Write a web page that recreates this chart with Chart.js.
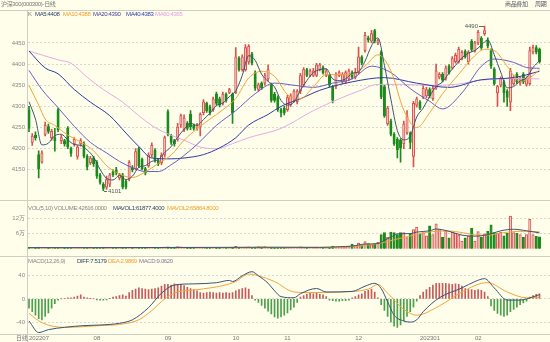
<!DOCTYPE html>
<html>
<head>
<meta charset="utf-8">
<script src="https://cdn.jsdelivr.net/npm/chart.js@4.4.1/dist/chart.umd.min.js"></script>
<style>
  body { margin: 0; background: #fefeeb; }
  #wrap { position: relative; width: 550px; height: 342px; overflow: hidden; background: #fefeeb;
          font-family: 'Liberation Sans', 'Noto Sans CJK SC', sans-serif; }
  canvas { position: absolute; left: 0; }
  .t { position: absolute; font-size: 6px; line-height: 7px; white-space: nowrap; letter-spacing: -0.35px; }
  .hl { position: absolute; left: 0; width: 550px; height: 0; border-top: 1px solid #cfcfc4; }
  .vl { position: absolute; left: 27px; top: 10px; width: 0; height: 332px; border-left: 1px solid #cfcfc4; }
</style>
</head>
<body>
<div id="wrap">
  <canvas id="main" width="550" height="190" style="top:10px"></canvas>
  <canvas id="vol" width="550" height="56" style="top:200px"></canvas>
  <canvas id="macd" width="550" height="86" style="top:256px"></canvas>

  <div class="hl" style="top:10px"></div>
  <div class="hl" style="top:200px"></div>
  <div class="hl" style="top:256px"></div>
  <div class="hl" style="top:334px"></div>
  <div class="vl"></div>

  <div class="t" style="left:1px;top:1px;color:#777">沪深300(000300)-日线</div>
  <div class="t" style="left:505px;top:1px;color:#556">商品叠加</div>
  <div class="t" style="left:535px;top:1px;color:#556">周期</div>

  <div class="t" style="left:28px;top:11px;color:#777">K</div>
  <div class="t" style="left:35px;top:11px;color:#2b4566">MA5:4408</div>
  <div class="t" style="left:63px;top:11px;color:#f0a030">MA10:4388</div>
  <div class="t" style="left:93px;top:11px;color:#4a3c9c">MA20:4390</div>
  <div class="t" style="left:126px;top:11px;color:#3040b0">MA40:4383</div>
  <div class="t" style="left:155px;top:11px;color:#e0a0e0">MA60:4365</div>

  <div class="t" style="left:28px;top:205px;color:#888">VOL(5,10) VOLUME:42616.0000</div>
  <div class="t" style="left:113px;top:205px;color:#2b4566">MAVOL1:61877.4000</div>
  <div class="t" style="left:167px;top:205px;color:#f0a030">MAVOL2:65864.8000</div>

  <div class="t" style="left:28px;top:258px;color:#888">MACD(12,26,9)</div>
  <div class="t" style="left:77px;top:258px;color:#2b4566">DIFF:7.5179</div>
  <div class="t" style="left:108px;top:258px;color:#f0a030">DEA:2.9869</div>
  <div class="t" style="left:139px;top:258px;color:#887799">MACD:9.0620</div>

  <div class="t" style="left:16px;top:335px;color:#777">日线</div>
</div>

<script>
// daily candles, index 0 = first session of 2022-07
var opens = [4292,4215,4232,4186,4168,4234,4252,4226,4226,4292, 4219,4219,4248,4200,4211,4182,4211,4212,4182,4167,
  4178,4168,4138,4116,4109,4116,4146,4150,4131,4138, 4123,4128,4155,4153,4200,4175,4153,4160,4185,4197,
  4172,4167,4185,4288,4230,4219,4222,4256,4245,4260, 4281,4255,4248,4252,4285,4307,4299,4292,4329,4318,
  4307,4329,4333,4329,4333,4414,4387,4387,4405,4424, 4380,4340,4355,4355,4365,4351,4329,4321,4292,4296,
  4292,4304,4314,4311,4336,4351,4387,4373,4373,4373, 4387,4392,4373,4373,4347,4347,4373,4358,4358,4365,
  4380,4369,4380,4417,4432,4462,4454,4479,4450,4428, 4347,4259,4266,4234,4222,4220,4212,4237,4237,4182,
  4303,4310,4322,4325,4340,4318,4343,4369,4376,4366, 4395,4391,4406,4406,4413,4431,4406,4454,4431,4450,
  4461,4472,4457,4432,4388,4332,4350,4358,4336,4310, 4354,4376,4355,4376,4352,4354,4428,4439,4435];
var closes = [4248,4230,4226,4153,4190,4255,4241,4241,4219,4245, 4226,4211,4204,4189,4222,4204,4219,4182,4157,4178,
  4164,4135,4120,4106,4127,4138,4138,4142,4138,4109, 4109,4168,4150,4193,4160,4153,4142,4185,4208,4172,
  4164,4185,4226,4234,4215,4211,4251,4278,4273,4248, 4252,4248,4255,4281,4311,4290,4285,4318,4307,4303,
  4329,4314,4340,4285,4417,4387,4417,4439,4442,4402, 4343,4351,4343,4373,4387,4314,4314,4292,4285,4285,
  4321,4325,4336,4336,4373,4387,4373,4384,4384,4398, 4398,4380,4384,4351,4314,4376,4380,4376,4380,4384,
  4369,4380,4417,4402,4468,4457,4472,4454,4457,4322, 4278,4296,4234,4212,4197,4201,4259,4277,4215,4307,
  4318,4296,4343,4340,4325,4343,4384,4376,4362,4391, 4380,4413,4421,4435,4428,4417,4428,4435,4450,4475,
  4439,4479,4443,4395,4354,4347,4366,4332,4321,4384, 4369,4358,4366,4358,4366,4432,4439,4428,4406];
var highs = [4300,4236,4240,4195,4195,4263,4258,4246,4248,4296, 4232,4222,4252,4204,4226,4208,4224,4216,4186,4182,
  4182,4172,4142,4120,4135,4142,4150,4156,4142,4142, 4126,4172,4160,4200,4204,4178,4156,4190,4214,4200,
  4176,4190,4230,4292,4234,4222,4260,4282,4280,4264, 4290,4258,4260,4285,4316,4310,4303,4322,4334,4322,
  4334,4332,4343,4332,4439,4418,4422,4446,4446,4428, 4384,4355,4358,4378,4398,4355,4333,4325,4296,4300,
  4326,4330,4340,4340,4378,4392,4390,4388,4390,4402, 4402,4396,4388,4376,4350,4380,4384,4380,4384,4388,
  4384,4390,4440,4420,4475,4466,4480,4482,4460,4432, 4350,4300,4270,4238,4226,4224,4265,4290,4240,4312,
  4322,4314,4350,4345,4344,4350,4400,4380,4380,4396, 4399,4418,4426,4440,4432,4434,4432,4458,4454,4480,
  4465,4490,4462,4436,4392,4350,4370,4362,4340,4390, 4374,4380,4370,4380,4370,4440,4445,4444,4438];
var lows = [4240,4208,4220,4131,4166,4230,4236,4220,4194,4240, 4212,4206,4200,4182,4206,4175,4206,4178,4150,4162,
  4158,4130,4116,4101,4104,4110,4134,4138,4126,4105, 4105,4124,4145,4150,4155,4150,4138,4156,4180,4168,
  4160,4162,4180,4230,4210,4206,4218,4250,4240,4244, 4245,4244,4244,4230,4280,4286,4280,4288,4303,4299,
  4303,4310,4330,4260,4330,4383,4383,4383,4400,4398, 4338,4336,4340,4350,4360,4310,4310,4288,4275,4280,
  4288,4300,4310,4306,4330,4346,4370,4370,4370,4370, 4384,4376,4370,4346,4308,4342,4370,4354,4354,4360,
  4365,4365,4376,4398,4428,4452,4450,4450,4446,4318, 4274,4255,4230,4208,4178,4168,4200,4234,4200,4157,
  4298,4292,4318,4320,4320,4314,4340,4365,4358,4362, 4376,4388,4402,4402,4410,4414,4400,4430,4428,4446,
  4435,4468,4438,4390,4350,4300,4346,4310,4300,4290, 4350,4354,4350,4354,4348,4350,4424,4424,4402];

// moving averages: [candle index, value]
var ma5 = [[0,4311],[2,4270],[4,4209],[6,4213],[8,4231],[10,4234],[12,4221],[14,4210],[16,4208],[18,4197],[20,4180],
  [22,4151],[24,4130],[26,4126],[28,4137],[30,4127],[32,4135],[34,4156],[36,4160],[38,4170],[40,4174],[42,4191],
  [44,4205],[46,4227],[48,4246],[50,4260],[52,4255],[54,4269],[56,4284],[58,4302],[60,4308],[62,4323],[64,4337],
  [66,4373],[68,4420],[70,4409],[72,4376],[74,4359],[76,4346],[78,4314],[80,4303],[82,4310],[84,4338],[86,4361],
  [88,4380],[90,4387],[92,4389],[94,4365],[96,4361],[98,4365],[100,4378],[102,4382],[104,4407],[106,4443],
  [108,4462],[110,4397],[112,4317],[114,4243],[116,4221],[118,4230],[120,4275],[122,4296],[124,4324],[126,4347],
  [128,4358],[130,4379],[132,4397],[134,4415],[136,4426],[138,4432],[140,4445],[142,4457],[144,4422],[146,4381],
  [148,4344],[150,4347],[152,4360],[154,4368],[156,4392],[158,4408]];
var ma10 = [[0,4349],[3,4303],[5,4270],[8,4255],[12,4232],[16,4216],[20,4195],[24,4160],[28,4140],[32,4132],[36,4145],
  [40,4165],[44,4185],[48,4220],[52,4247],[56,4270],[60,4292],[64,4319],[68,4367],[72,4383],[76,4371],[80,4328],
  [84,4318],[88,4346],[92,4375],[96,4375],[100,4376],[104,4395],[108,4422],[112,4384],[116,4291],[120,4250],
  [124,4285],[128,4330],[133,4376],[138,4420],[141,4435],[144,4432],[148,4395],[152,4359],[156,4373],[158,4388]];
var ma20 = [[0,4385],[4,4340],[9,4297],[14,4253],[19,4215],[24,4190],[28,4170],[32,4155],[36,4146],
  [40,4146],[44,4162],[47,4178],[52,4210],[58,4255],[64,4290],[70,4330],[76,4355],[82,4350],[88,4345],[94,4355],
  [100,4365],[106,4395],[112,4380],[118,4342],[124,4312],[128,4294],[134,4332],[140,4395],[144,4412],[150,4404],
  [154,4392],[158,4390]];
var ma40 = [[0,4431],[5,4391],[9,4377],[14,4340],[19,4310],[25,4278],[30,4237],[34,4205],[38,4178],[44,4176],
  [48,4178],[54,4186],[59,4202],[64,4226],[68,4256],[74,4281],[78,4300],[84,4318],[90,4338],[100,4358],
  [110,4368],[120,4355],[130,4345],[140,4363],[150,4368],[158,4383]];
var ma60 = [[0,4431],[9,4410],[13,4402],[18,4369],[23,4340],[29,4310],[34,4278],[39,4250],[44,4232],[48,4220],
  [53,4204],[58,4200],[63,4212],[68,4226],[78,4248],[88,4290],[96,4318],[102,4336],[108,4352],[116,4352],
  [124,4350],[132,4352],[140,4362],[148,4366],[158,4365]];

// volume, unit 万
var volume = [0.5,0.4,0.3,0.6,0.4,0.5,0.3,0.4,0.3,0.5, 0.3,0.3,0.4,0.3,0.3,0.4,0.3,0.5,0.4,0.3,
  0.4,0.5,0.4,0.6,0.5,0.4,0.3,0.3,0.3,0.4, 0.3,0.4,0.3,0.5,0.4,0.3,0.3,0.4,0.5,0.3,
  0.3,0.4,0.6,0.7,0.5,0.6,0.8,0.7,0.5,0.4, 0.3,0.3,0.4,0.4,0.5,0.3,0.4,0.5,0.4,0.3,
  0.4,0.3,0.4,0.6,0.9,0.6,0.5,0.6,0.7,0.5, 0.6,0.8,0.7,0.8,0.6,0.4,0.4,0.3,0.4,0.3,
  0.4,0.3,0.5,0.4,0.7,0.5,0.4,0.5,0.4,0.3, 0.4,0.5,0.4,0.5,1.0,0.6,0.8,0.9,0.7,0.8,
  1.8,1.2,2.2,1.4,2.8,2.0,1.6,1.7,2.5,5.5, 6.3,4.5,6.5,6.3,5.5,6.3,6.3,4.3,6.0,7.5,
  8.5,5.8,6.3,5.0,9.0,5.5,9.7,7.5,4.5,7.0, 4.2,6.5,6.0,5.3,3.0,4.2,5.0,8.0,3.0,6.7,
  4.5,5.8,6.8,9.3,6.3,6.0,6.5,5.0,6.0,12.8, 6.3,6.0,5.5,4.5,5.5,11.5,5.5,4.8,4.6];
var mavol1 = [[0,0.4],[20,0.4],[40,0.45],[60,0.5],[76,0.55],[90,0.5],[96,0.75],[100,1.0],[104,1.8],[108,2.0],
  [110,3.3],[112,4.5],[114,5.8],[118,5.9],[120,6.5],[124,7.0],[126,7.7],[130,6.8],[134,5.3],[138,4.9],[142,5.5],
  [146,7.0],[150,7.6],[154,7.0],[158,6.19]];
var mavol2 = [[0,0.4],[20,0.4],[40,0.42],[60,0.45],[76,0.5],[90,0.5],[100,0.8],[106,1.6],[110,2.5],[114,3.8],
  [118,5.0],[122,6.1],[126,6.8],[130,6.9],[134,6.3],[138,5.4],[142,5.3],[146,6.1],[150,6.7],[154,6.8],[158,6.59]];

// MACD(12,26,9)
var macdHist = [-16,-22,-28,-34,-36,-30,-24,-16,-8,-2, 0,1,2,2,3,5,7,3,2,0.5,
  0,-1.5,-2,-2,-1.5,0.5,3,4,6,7, 5,11,15,17,19,18,17,16,17,18,
  19,22,25,25,24,26,25,25,23,20, 18,16,14,11,10,11,12,11,10,11,
  10,11,10,11,14,16,18,19,17,6, -2,-6,-11,-16,-21,-26,-31,-33,-31,-28,
  -24,-19,-14,-6,3,6,8,10,9,10, 8,7,4,-2,-3,-4,-4,-3,-3,-2,
  2,4,7,9,13,15,17,12,2,-10, -20,-30,-40,-47,-49,-45,-38,-30,-22,-14,
  -4,6,12,16,20,24,27,27,27,27, 26,25,26,25,22,18,16,16,15,16,
  15,12,4,-12,-20,-25,-28,-30,-28,-22, -18,-14,-10,-7,-4,3,6,8,9];
var dif = [[0,-38],[3,-58],[6,-53],[11,-49],[17,-46],[22,-45],[28,-42],[32,-36],[37,-15],[41,10],[45,24],[51,26],
  [58,28],[62,32],[63,30],[66,40],[69,47],[71,40],[74,27],[76,14],[78,4],[82,2],[84,9],[89,18],[92,12],[100,13],
  [104,22],[107,27],[109,18],[111,-5],[113,-28],[116,-38],[118,-40],[120,-36],[122,-22],[127,2],[134,19],[138,30],
  [141,35],[144,19],[148,-2],[152,-2],[154,0],[158,7.5]];
var dea = [[0,-25],[4,-41],[11,-49],[22,-46],[28,-44],[34,-36],[38,-20],[42,0],[46,12],[52,16],[60,23],[64,30],
  [68,43],[71,40],[76,30],[82,12],[86,11],[97,12],[105,17],[108,25],[111,10],[116,-18],[120,-28],[127,-12],
  [134,12],[140,27],[142,28],[148,12],[154,2],[158,3]];

var monthIdx = [0, 20, 42, 63, 79, 101, 121, 138];
var monthLabels = ['202207', '08', '09', '10', '11', '12', '202301', '02'];

Chart.defaults.font.family = "'Liberation Sans', 'Noto Sans CJK SC', sans-serif";
Chart.defaults.font.size = 6;
Chart.defaults.color = '#888';
Chart.defaults.animation = false;

var RED = '#d9534f', RED_FILL = '#f6cdc4', GREEN = '#1c8a1c';
var isUp = closes.map(function (c, i) { return c >= opens[i]; });

function pts(arr) { return arr.map(function (p) { return { x: p[0], y: p[1] }; }); }

function xAxis(show) {
  return {
    type: 'linear', min: -0.31, max: 161.25, offset: false, display: show,
    grid: { display: false, drawTicks: false }, border: { display: false }
  };
}
function yAxis(min, max, ticks, fmt) {
  return {
    position: 'left', min: min, max: max,
    afterFit: function (s) { s.width = 28; },
    afterBuildTicks: function (s) { s.ticks = ticks.map(function (v) { return { value: v }; }); },
    grid: { color: '#d8d8cc', drawTicks: false },
    border: { display: false, dash: [2, 2] },
    ticks: { padding: 3, color: '#888', font: { size: 6 }, callback: fmt }
  };
}
function maLine(label, data, color) {
  return { type: 'line', label: label, data: pts(data), borderColor: color, borderWidth: 1,
    pointRadius: 0, cubicInterpolationMode: 'monotone', order: 0 };
}
var common = {
  responsive: false, devicePixelRatio: 1,
  layout: { padding: 0 },
  plugins: { legend: { display: false }, tooltip: { enabled: false } }
};

// labels for the highest high and lowest low
var extremes = {
  id: 'extremes',
  afterDatasetsDraw: function (chart) {
    var ctx = chart.ctx, xs = chart.scales.x, ys = chart.scales.y;
    var hi = highs.indexOf(Math.max.apply(null, highs));
    var lo = lows.indexOf(Math.min.apply(null, lows));
    ctx.save();
    ctx.font = "6px 'Liberation Sans'";
    ctx.fillStyle = '#555';
    ctx.strokeStyle = '#666';
    ctx.lineWidth = 1;
    ctx.textBaseline = 'middle';
    var x = Math.round(xs.getPixelForValue(hi)), y = Math.round(ys.getPixelForValue(highs[hi]));
    ctx.beginPath(); ctx.moveTo(x - 1, y + 0.5); ctx.lineTo(x - 6, y + 0.5); ctx.stroke();
    ctx.textAlign = 'right';
    ctx.fillText(String(highs[hi]), x - 7, y);
    x = Math.round(xs.getPixelForValue(lo)); y = Math.round(ys.getPixelForValue(lows[lo]));
    ctx.beginPath(); ctx.moveTo(x + 1, y + 0.5); ctx.lineTo(x + 4, y + 0.5); ctx.stroke();
    ctx.textAlign = 'left';
    ctx.fillText(String(lows[lo]), x + 5, y);
    ctx.restore();
  }
};

new Chart(document.getElementById('main'), {
  type: 'bar',
  data: {
    datasets: [
      maLine('MA5', ma5, '#3b5473'),
      maLine('MA10', ma10, '#f2a33a'),
      maLine('MA20', ma20, '#6a5cc0'),
      maLine('MA40', ma40, '#2b3aa8'),
      maLine('MA60', ma60, '#e6aae6'),
      {
        label: 'body', order: 1, grouped: false,
        data: opens.map(function (o, i) { return { x: i, y: [o, closes[i]] }; }),
        backgroundColor: isUp.map(function (u) { return u ? RED_FILL : GREEN; }),
        borderColor: isUp.map(function (u) { return u ? RED : GREEN; }),
        borderWidth: 1, borderSkipped: false, barThickness: 2.4, minBarLength: 1
      },
      {
        label: 'wick', order: 2, grouped: false,
        data: lows.map(function (l, i) { return { x: i, y: [l, highs[i]] }; }),
        backgroundColor: isUp.map(function (u) { return u ? RED : GREEN; }),
        barThickness: 1
      }
    ]
  },
  options: Object.assign({}, common, {
    scales: {
      x: xAxis(false),
      y: yAxis(4094.3, 4512.3, [4150, 4200, 4250, 4300, 4350, 4400, 4450])
    }
  }),
  plugins: [extremes]
});

new Chart(document.getElementById('vol'), {
  type: 'bar',
  data: {
    datasets: [
      { type: 'line', label: 'MAVOL1', data: pts(mavol1), borderColor: '#3b5473', borderWidth: 1,
        pointRadius: 0, cubicInterpolationMode: 'monotone', order: 0 },
      { type: 'line', label: 'MAVOL2', data: pts(mavol2), borderColor: '#f2a33a', borderWidth: 1,
        pointRadius: 0, cubicInterpolationMode: 'monotone', order: 0 },
      {
        label: 'VOLUME', order: 1,
        data: volume.map(function (v, i) { return { x: i, y: v }; }),
        backgroundColor: isUp.map(function (u) { return u ? RED_FILL : GREEN; }),
        borderColor: isUp.map(function (u) { return u ? RED : GREEN; }),
        borderWidth: 1, barThickness: 2.4
      }
    ]
  },
  options: Object.assign({}, common, {
    scales: {
      x: xAxis(false),
      y: yAxis(-0.3, 16.5, [6, 12], function (v) { return v + '万'; })
    }
  })
});

var macdX = xAxis(true);
macdX.afterFit = function (s) { s.height = 8; };
macdX.afterBuildTicks = function (s) { s.ticks = monthIdx.map(function (v) { return { value: v }; }); };
macdX.ticks = {
  padding: 1, align: 'start', maxRotation: 0, autoSkip: false, color: '#777', font: { size: 6 },
  callback: function (v) { return monthLabels[monthIdx.indexOf(v)]; }
};

new Chart(document.getElementById('macd'), {
  type: 'bar',
  data: {
    datasets: [
      { type: 'line', label: 'DIFF', data: pts(dif), borderColor: '#3b5473', borderWidth: 1,
        pointRadius: 0, cubicInterpolationMode: 'monotone', order: 0 },
      { type: 'line', label: 'DEA', data: pts(dea), borderColor: '#f2a33a', borderWidth: 1,
        pointRadius: 0, cubicInterpolationMode: 'monotone', order: 0 },
      {
        label: 'MACD', order: 1,
        data: macdHist.map(function (v, i) { return { x: i, y: v }; }),
        backgroundColor: macdHist.map(function (v) { return v >= 0 ? '#c65a5a' : '#4aa04a'; }),
        barThickness: 1
      }
    ]
  },
  options: Object.assign({}, common, {
    scales: {
      x: macdX,
      y: yAxis(-60.5, 62.7, [-40, 0, 40])
    }
  })
});
</script>
</body>
</html>
